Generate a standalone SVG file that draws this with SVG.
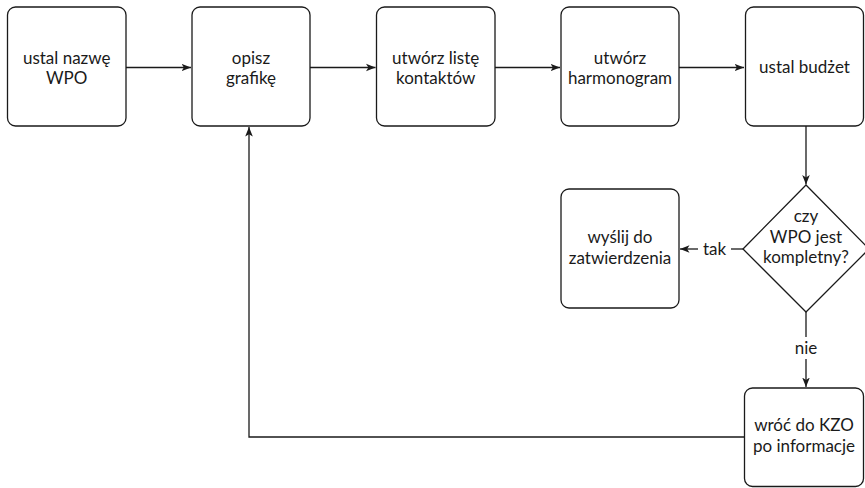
<svg xmlns="http://www.w3.org/2000/svg" width="865" height="488" viewBox="0 0 865 488">
  <style>
    .box { fill: #ffffff; stroke: #1a1a1a; stroke-width: 1.3; }
    .lbl { font-family: Lato, "Open Sans", "Liberation Sans", sans-serif; font-size: 17px; fill: #1a1a1a; text-anchor: middle; }
    .edge { fill: none; stroke: #1a1a1a; stroke-width: 1.3; }
  </style>
  <defs>
    <marker id="arrow" viewBox="0 0 10 10" refX="10" refY="5" markerWidth="9.5" markerHeight="9.5" markerUnits="userSpaceOnUse" orient="auto">
      <path d="M0,1 L10,5 L0,9 L2.5,5 Z" fill="#1a1a1a"/>
    </marker>
  </defs>
  <rect width="865" height="488" fill="#ffffff"/>

  <g id="edges">
    <path class="edge" d="M126,67.5 H191" marker-end="url(#arrow)"/>
    <path class="edge" d="M310,67.5 H375.5" marker-end="url(#arrow)"/>
    <path class="edge" d="M495,67.5 H560" marker-end="url(#arrow)"/>
    <path class="edge" d="M679,67.5 H744" marker-end="url(#arrow)"/>
    <path class="edge" d="M806,126 V184.5" marker-end="url(#arrow)"/>
    <path class="edge" d="M743,249 H731"/>
    <path class="edge" d="M698,249 H680" marker-end="url(#arrow)"/>
    <path class="edge" d="M806,312 V337"/>
    <path class="edge" d="M806,359 V387" marker-end="url(#arrow)"/>
    <path class="edge" d="M744,437 H249 V127" marker-end="url(#arrow)"/>
    <text class="lbl" x="714.5" y="254.5">tak</text>
    <text class="lbl" x="806" y="353.5">nie</text>
  </g>

  <g id="n1">
    <rect class="box" x="7.5" y="7" width="118.5" height="119" rx="8"/>
    <text class="lbl" y="63.5"><tspan x="66.7">ustal nazwę</tspan><tspan x="66.7" dy="20.5">WPO</tspan></text>
  </g>
  <g id="n2">
    <rect class="box" x="192" y="7" width="118" height="119" rx="8"/>
    <text class="lbl" y="63.5"><tspan x="251">opisz</tspan><tspan x="251" dy="20.5">grafikę</tspan></text>
  </g>
  <g id="n3">
    <rect class="box" x="376.5" y="7" width="118.5" height="119" rx="8"/>
    <text class="lbl" y="63.5"><tspan x="435.7">utwórz listę</tspan><tspan x="435.7" dy="20.5">kontaktów</tspan></text>
  </g>
  <g id="n4">
    <rect class="box" x="561" y="7" width="118" height="119" rx="8"/>
    <text class="lbl" y="63.5"><tspan x="620">utwórz</tspan><tspan x="620" dy="20.5">harmonogram</tspan></text>
  </g>
  <g id="n5">
    <rect class="box" x="745.5" y="7" width="118" height="119" rx="8"/>
    <text class="lbl" x="804.5" y="72.5">ustal budżet</text>
  </g>
  <g id="n6">
    <path class="box" d="M806,185 L869,249 L806,312 L743,249 Z" stroke-linejoin="round"/>
    <text class="lbl" y="222"><tspan x="806">czy</tspan><tspan x="806" dy="20.5">WPO jest</tspan><tspan x="806" dy="20.5">kompletny?</tspan></text>
  </g>
  <g id="n7">
    <rect class="box" x="561" y="189" width="118" height="119" rx="8"/>
    <text class="lbl" y="243"><tspan x="620">wyślij do</tspan><tspan x="620" dy="20.5">zatwierdzenia</tspan></text>
  </g>
  <g id="n8">
    <rect class="box" x="744.5" y="388" width="119" height="98.5" rx="8"/>
    <text class="lbl" y="431"><tspan x="804">wróć do KZO</tspan><tspan x="804" dy="20.5">po informacje</tspan></text>
  </g>
</svg>
